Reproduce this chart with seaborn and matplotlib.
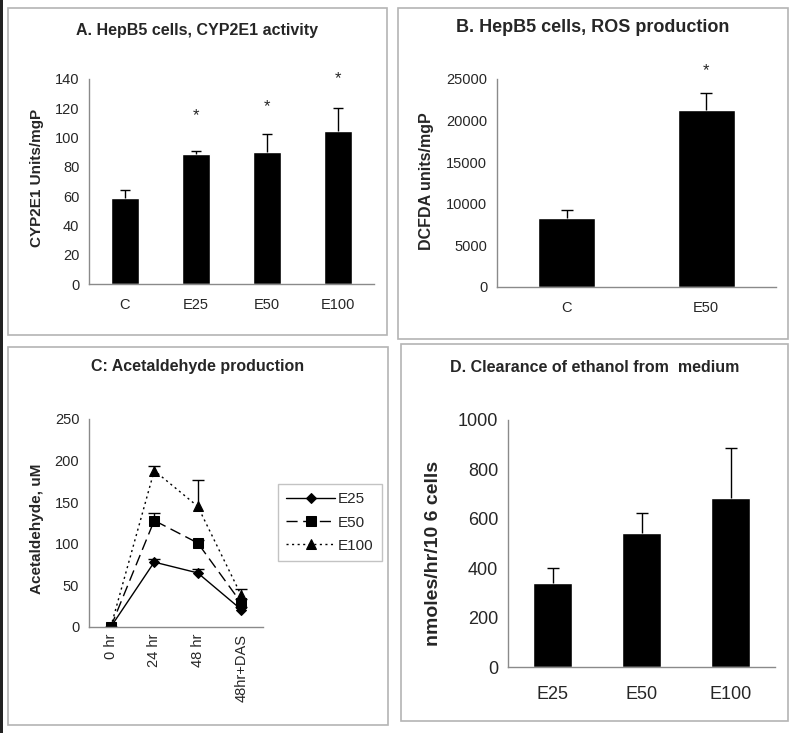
import numpy as np
import pandas as pd
import matplotlib
matplotlib.use("Agg")
import matplotlib.pyplot as plt
from matplotlib.patches import Rectangle
from matplotlib.ticker import FixedLocator
import seaborn as sns

# panel A: CYP2E1 activity
a_groups = ["C", "E25", "E50", "E100"]
a_mean = [59, 88.5, 90, 104.5]
a_err = [5, 2.5, 12.5, 15.5]
a_star = [None, 115, 121, 140]

# panel B: ROS production
b_groups = ["C", "E50"]
b_mean = [8300, 21300]
b_err = [900, 2000]
b_star = [None, 26000]

# panel C: acetaldehyde time course
c_times = ["0 hr", "24 hr", "48 hr", "48hr+DAS"]
c_e25 = [0, 78, 65, 21]
c_e50 = [0, 128, 101, 29]
c_e100 = [0, 188, 145, 38]
c_e25_err = [0, 4, 5, 3]
c_e50_err = [0, 9, 3, 5]
c_e100_err = [0, 6, 32, 8]

# panel D: ethanol clearance
d_groups = ["E25", "E50", "E100"]
d_mean = [342, 542, 683]
d_err = [58, 83, 204]

sns.set_style("white")
plt.rcParams["font.family"] = ["Liberation Sans", "DejaVu Sans"]

W, H = 800, 733
fig = plt.figure(figsize=(W / 100, H / 100), dpi=100)
GRAY = "#8a8a8a"


def px_axes(x0, y0, x1, y1):
    return fig.add_axes([x0 / W, 1 - y1 / H, (x1 - x0) / W, (y1 - y0) / H])


def frame(x0, y0, x1, y1):
    fig.patches.append(Rectangle((x0 / W, 1 - y1 / H), (x1 - x0) / W, (y1 - y0) / H,
                                 transform=fig.transFigure, fill=False,
                                 edgecolor="#b4b4b4", lw=1.2))


def style_axis(ax, n, tick_fs, pad, rot=0):
    for s in ["top", "right"]:
        ax.spines[s].set_visible(False)
    for s in ["left", "bottom"]:
        ax.spines[s].set_color(GRAY)
        ax.spines[s].set_linewidth(1)
    ax.set_xlim(-0.5, n - 0.5)
    ax.xaxis.set_minor_locator(FixedLocator(np.arange(-0.5, n, 1.0)))
    ax.tick_params(axis="x", which="major", length=0, pad=pad, labelsize=tick_fs,
                   labelrotation=rot)
    ax.tick_params(axis="x", which="minor", length=4, color=GRAY, direction="out")
    ax.tick_params(axis="y", length=4, color=GRAY, direction="out", labelsize=tick_fs, pad=3)
    ax.set_xlabel("")
    ax.set_ylabel("")


def up_errors(ax, mean, err, cap):
    eb = ax.errorbar(np.arange(len(mean)), mean, yerr=[np.zeros(len(err)), err],
                     fmt="none", ecolor="black", elinewidth=1, capsize=cap, capthick=1)
    # keep only the upper caps
    eb[1][0].set_visible(False)


def bars(ax, groups, mean, err, width, cap):
    df = pd.DataFrame({"group": groups, "value": mean})
    sns.barplot(data=df, x="group", y="value", color="black", width=width,
                saturation=1, errorbar=None, ax=ax)
    up_errors(ax, mean, err, cap)


# ---- A ----
frame(8, 8, 387, 335)
axA = px_axes(89, 79, 374, 284)
bars(axA, a_groups, a_mean, a_err, 0.39, 3.5)
axA.set_ylim(0, 140)
axA.set_yticks(range(0, 141, 20))
style_axis(axA, 4, 10.5, 10)
for i, s in enumerate(a_star):
    if s is not None:
        axA.text(i, s, "*", ha="center", va="center", fontsize=12)
fig.text(197 / W, 1 - 30 / H, "A. HepB5 cells, CYP2E1 activity", ha="center", va="center",
         fontsize=11.5, fontweight="bold")
fig.text(37 / W, 1 - 178 / H, "CYP2E1 Units/mgP", rotation=90, ha="center", va="center",
         fontsize=11, fontweight="bold")

# ---- B ----
frame(398, 8, 788, 339)
axB = px_axes(497, 79, 776, 287)
bars(axB, b_groups, b_mean, b_err, 0.41, 4.5)
axB.set_ylim(0, 25000)
axB.set_yticks(range(0, 25001, 5000))
style_axis(axB, 2, 10.5, 10)
for i, s in enumerate(b_star):
    if s is not None:
        axB.text(i, s, "*", ha="center", va="center", fontsize=12)
fig.text(593 / W, 1 - 28 / H, "B. HepB5 cells, ROS production", ha="center", va="center",
         fontsize=13, fontweight="bold")
fig.text(427 / W, 1 - 181 / H, "DCFDA units/mgP", rotation=90, ha="center", va="center",
         fontsize=11.5, fontweight="bold")

# ---- C ----
frame(8, 347, 388, 725)
axC = px_axes(89, 419, 263, 627)
names = ["E25", "E50", "E100"]
long = pd.DataFrame({
    "time": c_times * 3,
    "value": c_e25 + c_e50 + c_e100,
    "series": [n for n in names for _ in c_times],
})
sns.pointplot(data=long, x="time", y="value", hue="series", hue_order=names,
              palette=["black"] * 3, markers=["D", "s", "^"],
              linestyles=["-", (0, (8, 4)), (0, (1.5, 2.5))],
              errorbar=None, markersize=7, linewidth=1, ax=axC, legend=False)
series_lines = list(axC.lines[:3])
for ln, ms in zip(series_lines, [5.5, 7, 7.5]):
    ln.set_markersize(ms)
for vals, errs in [(c_e25, c_e25_err), (c_e50, c_e50_err), (c_e100, c_e100_err)]:
    up_errors(axC, vals, errs, 4)
axC.set_ylim(0, 250)
axC.set_yticks(range(0, 251, 50))
style_axis(axC, 4, 10.5, 5, rot=90)
leg = fig.legend(series_lines, names, loc="upper left", bbox_to_anchor=(278 / W, 1 - 484 / H),
                 bbox_transform=fig.transFigure, frameon=True, fancybox=False,
                 edgecolor="#b4b4b4", fontsize=11, handlelength=3.2, borderpad=0.55,
                 labelspacing=0.6, handletextpad=0.15, borderaxespad=0)
leg.get_frame().set_linewidth(1)
fig.text(198 / W, 1 - 367 / H, "C: Acetaldehyde production", ha="center", va="center",
         fontsize=11.5, fontweight="bold")
fig.text(37 / W, 1 - 529 / H, "Acetaldehyde, uM", rotation=90, ha="center", va="center",
         fontsize=11, fontweight="bold")

# ---- D ----
frame(401, 344, 788, 721)
axD = px_axes(508, 420, 775, 667)
bars(axD, d_groups, d_mean, d_err, 0.43, 4.5)
axD.set_ylim(0, 1000)
axD.set_yticks(range(0, 1001, 200))
style_axis(axD, 3, 13, 14)
fig.text(595 / W, 1 - 367 / H, "D. Clearance of ethanol from  medium", ha="center",
         va="center", fontsize=11.5, fontweight="bold")
fig.text(434 / W, 1 - 553 / H, "nmoles/hr/10 6 cells", rotation=90, ha="center",
         va="center", fontsize=14, fontweight="bold")

# dark scan edge on the left
fig.patches.append(Rectangle((0, 0), 3 / W, 1, transform=fig.transFigure,
                             color="#222222", lw=0))

fig.savefig("out.png", dpi=100)
